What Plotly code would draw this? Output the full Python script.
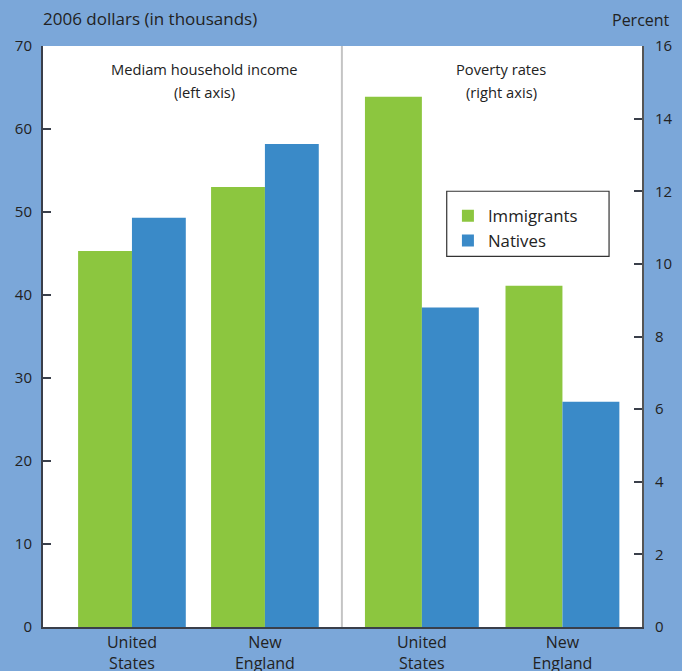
import plotly.graph_objects as go

# Regions shown on both panels
regions = ["United<br>States", "New<br>England"]

# Median household income, 2006 dollars (thousands)
income_immigrants = [45.3, 53.0]
income_natives = [49.3, 58.2]

# Poverty rates, percent
poverty_immigrants = [14.6, 9.4]
poverty_natives = [8.8, 6.2]

left_ticks = [0, 10, 20, 30, 40, 50, 60, 70]
right_ticks = [0, 2, 4, 6, 8, 10, 12, 14, 16]

GREEN = "#8CC63F"
BLUE = "#3A8AC8"
BG = "#7BA7D9"
INK = "#222222"
FONT = "Open Sans"

fig = go.Figure()

bar_style = dict(marker_line_width=0)
fig.add_trace(go.Bar(x=regions, y=income_immigrants, name="Immigrants",
                     marker_color=GREEN, legendgroup="imm",
                     xaxis="x", yaxis="y", **bar_style))
fig.add_trace(go.Bar(x=regions, y=income_natives, name="Natives",
                     marker_color=BLUE, legendgroup="nat",
                     xaxis="x", yaxis="y", **bar_style))
fig.add_trace(go.Bar(x=regions, y=poverty_immigrants, name="Immigrants",
                     marker_color=GREEN, legendgroup="imm", showlegend=False,
                     xaxis="x2", yaxis="y2", **bar_style))
fig.add_trace(go.Bar(x=regions, y=poverty_natives, name="Natives",
                     marker_color=BLUE, legendgroup="nat", showlegend=False,
                     xaxis="x2", yaxis="y2", **bar_style))

split = 0.499
axis_line = dict(showline=True, linecolor="#3a3f4a", linewidth=2)

fig.update_layout(
    width=682, height=671,
    margin=dict(l=43, r=40, t=46, b=44, autoexpand=False),
    paper_bgcolor=BG,
    plot_bgcolor="white",
    barmode="group",
    bargap=0.19,
    bargroupgap=0,
    font=dict(family=FONT, color=INK, size=15),
    xaxis=dict(domain=[0, split], type="category", range=[-0.669, 1.579],
               showgrid=False, ticks="", tickfont=dict(size=16),
               automargin=False, **axis_line),
    xaxis2=dict(domain=[split, 1], type="category", range=[-0.569, 1.566],
                showgrid=False, ticks="", tickfont=dict(size=16),
                anchor="y2", automargin=False, **axis_line),
    yaxis=dict(range=[0, 70], tickvals=left_ticks, showgrid=False,
               zeroline=False, ticks="inside", ticklen=8, tickwidth=2,
               tickcolor="#3a3f4a", ticklabelstandoff=6,
               tickfont=dict(size=15), automargin=False, **axis_line),
    yaxis2=dict(range=[0, 16], tickvals=right_ticks, showgrid=False,
                zeroline=False, side="right", anchor="x2",
                ticks="inside", ticklen=8, tickwidth=2, tickcolor="#3a3f4a",
                ticklabelstandoff=8, tickfont=dict(size=15), automargin=False,
                showline=True, linecolor="#555555", linewidth=2),
    legend=dict(x=0.676, y=0.738, xanchor="left", yanchor="top",
                bgcolor="rgba(0,0,0,0)", borderwidth=0,
                font=dict(size=16.8, color=INK), tracegroupgap=0),
    showlegend=True,
)

# Divider between the two panels
fig.add_shape(type="line", xref="paper", yref="paper", x0=split, x1=split,
              y0=0, y1=1, line=dict(color="#c4c4c4", width=2))

# Frame behind the legend entries
fig.add_shape(type="rect", xref="paper", yref="paper",
              x0=0.674, x1=0.945, y0=0.638, y1=0.750,
              fillcolor="white", line=dict(color="#333333", width=1.2),
              layer="above")

def note(text, x, y, **kw):
    fig.add_annotation(text=text, xref="paper", yref="paper", x=x, y=y,
                       showarrow=False, xanchor="center", yanchor="middle",
                       **kw)

# Axis captions
note("2006 dollars (in thousands)", 0.178, 1.048, font=dict(size=17))
note("Percent", 0.999, 1.045, font=dict(size=16))

# Panel headings
note("Mediam household income", 0.270, 0.960, font=dict(size=14.7))
note("(left axis)", 0.270, 0.920, font=dict(size=14.7))
note("Poverty rates", 0.765, 0.960, font=dict(size=14.7))
note("(right axis)", 0.765, 0.920, font=dict(size=14.7))

fig.write_html("out.html")
